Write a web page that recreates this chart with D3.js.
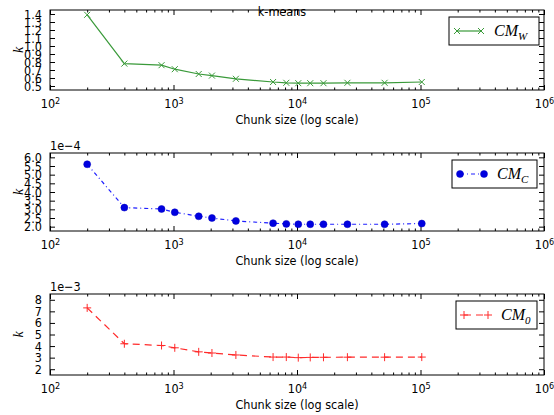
<!DOCTYPE html>
<html>
<head>
<meta charset="utf-8">
<script src="https://cdn.jsdelivr.net/npm/d3@7"></script>
<style>
  body { margin: 0; background: #fff; }
  svg text { font-family: "DejaVu Sans Condensed", "DejaVu Sans", sans-serif; font-stretch: condensed; fill: #000; }
  .math { font-family: "Liberation Serif", "DejaVu Serif", serif; font-style: italic; font-stretch: normal; }
</style>
</head>
<body>
<div id="graph"></div>
<script>
// chunk sizes on the x axis
var chunkSizes = [200, 400, 800, 1024, 1600, 2048, 3200, 6400, 8192, 10240, 12800, 16384, 25600, 51200, 102400]
// k values for each measure
var cmW = [1.39, 0.78, 0.76, 0.71, 0.65, 0.63, 0.59, 0.55, 0.54, 0.535, 0.535, 0.535, 0.54, 0.54, 0.55]
var cmC = [5.6e-4, 3.1e-4, 3.02e-4, 2.83e-4, 2.6e-4, 2.5e-4, 2.33e-4, 2.2e-4, 2.16e-4, 2.14e-4, 2.14e-4, 2.14e-4, 2.14e-4, 2.14e-4, 2.18e-4]
var cm0 = [7.3e-3, 4.2e-3, 4.05e-3, 3.85e-3, 3.5e-3, 3.4e-3, 3.23e-3, 3.05e-3, 3.05e-3, 3.0e-3, 3.02e-3, 3.03e-3, 3.04e-3, 3.04e-3, 3.05e-3]
// tick values
var xTicks = [1e2, 1e3, 1e4, 1e5, 1e6]
var yTicksW = [0.5, 0.6, 0.7, 0.8, 0.9, 1.0, 1.1, 1.2, 1.3, 1.4]
var yTicksC = [2.0e-4, 2.5e-4, 3.0e-4, 3.5e-4, 4.0e-4, 4.5e-4, 5.0e-4, 5.5e-4, 6.0e-4]
var yTicks0 = [2e-3, 3e-3, 4e-3, 5e-3, 6e-3, 7e-3, 8e-3]

var width = 554, height = 415
var left = 50, right = 544

var svg = d3.select("#graph").append("svg")
	.attr("width", width).attr("height", height)

var panels = [
	{top: 10, bottom: 90, values: cmW, ticks: yTicksW, domain: [0.45, 1.45], scale: 1, digits: 1, offset: null,
		color: "#3a9a3a", dash: null, marker: "x", sub: "W", legend: [449, 90]},
	{top: 153, bottom: 231, values: cmC, ticks: yTicksC, domain: [1.75e-4, 6.25e-4], scale: 1e-4, digits: 1, offset: "1e\u22124",
		color: "#2020ff", dash: "4,3,1,3", marker: "o", sub: "C", legend: [452, 85]},
	{top: 294, bottom: 375, values: cm0, ticks: yTicks0, domain: [1.5e-3, 8.5e-3], scale: 1e-3, digits: 0, offset: "1e\u22123",
		color: "#ff2a2a", dash: "7,5", marker: "+", sub: "0", legend: [456, 81]}
]

var x = d3.scaleLog().domain([1e2, 1e6]).range([left, right])

var minorTicks = []
for (var e = 2; e < 6; e++) {
	for (var m = 2; m < 10; m++) minorTicks.push(m * Math.pow(10, e))
}

panels.forEach(drawPanel)

// figure title sits on top of the first frame
svg.append("text")
	.attr("x", 282).attr("y", 16)
	.attr("text-anchor", "middle")
	.style("font-size", "12.5px")
	.text("k-means")

function drawPanel(p) {
	var y = d3.scaleLinear().domain(p.domain).range([p.bottom, p.top])
	var g = svg.append("g")

	// frame
	g.append("rect")
		.attr("x", left).attr("y", p.top)
		.attr("width", right - left).attr("height", p.bottom - p.top)
		.attr("fill", "#fff").attr("stroke", "#000").attr("stroke-width", 1)

	// x axis ticks, inward on bottom and top
	var xb = g.append("g").attr("transform", "translate(0," + p.bottom + ")")
		.call(d3.axisBottom(x).tickValues(xTicks).tickSize(-5).tickPadding(9)
			.tickFormat(function(d) { return "" }))
	xb.selectAll(".tick text").each(function(d) {
		var t = d3.select(this)
		t.append("tspan").text("10")
		t.append("tspan").attr("dy", "-0.45em").style("font-size", "9px").text(Math.round(Math.log10(d)))
	})
	g.append("g").attr("transform", "translate(0," + p.bottom + ")")
		.call(d3.axisBottom(x).tickValues(minorTicks).tickSize(-2.5).tickFormat(""))
	g.append("g").attr("transform", "translate(0," + p.top + ")")
		.call(d3.axisTop(x).tickValues(xTicks).tickSize(-5).tickFormat(""))
	g.append("g").attr("transform", "translate(0," + p.top + ")")
		.call(d3.axisTop(x).tickValues(minorTicks).tickSize(-2.5).tickFormat(""))

	// y axis ticks, inward on left and right
	g.append("g").attr("transform", "translate(" + left + ",0)")
		.call(d3.axisLeft(y).tickValues(p.ticks).tickSize(-5).tickPadding(8)
			.tickFormat(function(d) { return (d / p.scale).toFixed(p.digits) }))
	g.append("g").attr("transform", "translate(" + right + ",0)")
		.call(d3.axisRight(y).tickValues(p.ticks).tickSize(-5).tickFormat(""))

	g.selectAll(".domain").remove()
	g.selectAll(".tick line").attr("stroke", "#000")
	g.selectAll(".tick text").style("font-size", "12.5px")
		.style("font-family", "'DejaVu Sans Condensed', 'DejaVu Sans', sans-serif")

	if (p.offset) {
		g.append("text").attr("x", left).attr("y", p.top - 3)
			.style("font-size", "12.5px").text(p.offset)
	}

	g.append("text")
		.attr("class", "math")
		.attr("transform", "translate(23," + ((p.top + p.bottom) / 2) + ") rotate(-90)")
		.attr("text-anchor", "middle")
		.style("font-size", "14px")
		.text("k")

	g.append("text")
		.attr("x", (left + right) / 2).attr("y", p.bottom + 34)
		.attr("text-anchor", "middle")
		.style("font-size", "12.5px")
		.text("Chunk size (log scale)")

	// series line
	var line = d3.line()
		.x(function(d, i) { return x(chunkSizes[i]) })
		.y(function(d) { return y(d) })
	g.append("path")
		.datum(p.values)
		.attr("d", line)
		.attr("fill", "none")
		.attr("stroke", p.color)
		.attr("stroke-width", 1.2)
		.attr("stroke-dasharray", p.dash)

	var pts = p.values.map(function(d, i) { return [x(chunkSizes[i]), y(d)] })
	pts.forEach(function(pt) { drawMarker(g, p, pt[0], pt[1]) })

	// legend
	var lx = p.legend[0], ly = p.top + 7, lw = p.legend[1], lh = 28
	g.append("rect")
		.attr("x", lx).attr("y", ly).attr("width", lw).attr("height", lh)
		.attr("fill", "#fff").attr("stroke", "#000").attr("stroke-width", 1)
	var my = ly + lh / 2
	g.append("line")
		.attr("x1", lx + 8).attr("x2", lx + 32).attr("y1", my).attr("y2", my)
		.attr("stroke", p.color).attr("stroke-width", 1.2)
		.attr("stroke-dasharray", p.dash)
	drawMarker(g, p, lx + 8, my)
	drawMarker(g, p, lx + 32, my)
	var lt = g.append("text").attr("class", "math")
		.attr("x", lx + 45).attr("y", my + 5)
		.style("font-size", "16px")
	lt.append("tspan").text("CM")
	lt.append("tspan").attr("dy", 4).style("font-size", "11px").text(p.sub)
}

function drawMarker(g, p, cx, cy) {
	if (p.marker === "o") {
		g.append("circle").attr("cx", cx).attr("cy", cy).attr("r", 3.5)
			.attr("fill", "#0000e0").attr("stroke", "#0000c0").attr("stroke-width", 0.5)
	} else if (p.marker === "x") {
		var s = 3
		g.append("path")
			.attr("d", "M" + (cx - s) + "," + (cy - s) + "L" + (cx + s) + "," + (cy + s) +
				"M" + (cx - s) + "," + (cy + s) + "L" + (cx + s) + "," + (cy - s))
			.attr("stroke", p.color).attr("stroke-width", 1)
	} else {
		var s2 = 4
		g.append("path")
			.attr("d", "M" + (cx - s2) + "," + cy + "L" + (cx + s2) + "," + cy +
				"M" + cx + "," + (cy - s2) + "L" + cx + "," + (cy + s2))
			.attr("stroke", p.color).attr("stroke-width", 1)
	}
}
</script>
</body>
</html>
